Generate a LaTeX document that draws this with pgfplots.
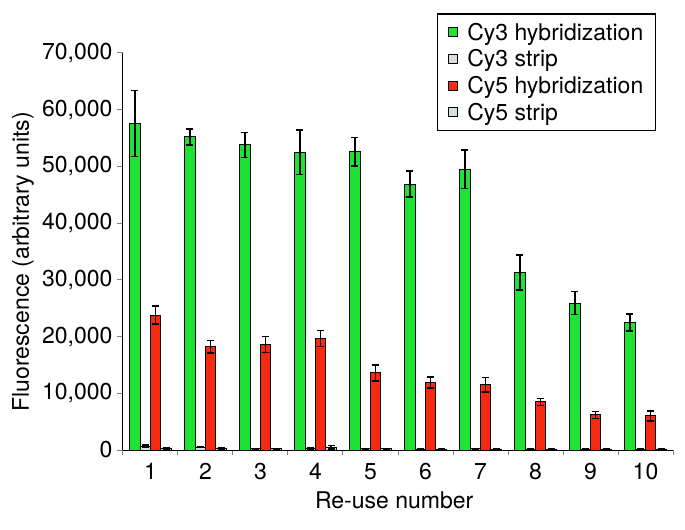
\documentclass[border=0pt]{standalone}
\usepackage{fontspec}
\setmainfont{TeX Gyre Heros}
\usepackage{pgfplots}
\pgfplotsset{compat=1.18}
\usepackage{pgfplotstable}
\definecolor{cygreen}{RGB}{30,226,52}
\definecolor{cyred}{RGB}{246,42,16}
\definecolor{cystrip}{RGB}{212,224,224}
\pgfplotstableread{
x y e
1 57600 5800
2 55200 1400
3 53800 2200
4 52500 3900
5 52600 2500
6 46900 2300
7 49500 3400
8 31300 3100
9 25900 2000
10 22500 1500
}\cythreehyb
\pgfplotstableread{
x y e
1 700 150
2 500 100
3 200 50
4 300 100
5 200 50
6 150 50
7 200 50
8 150 50
9 150 50
10 150 50
}\cythreestrip
\pgfplotstableread{
x y e
1 23800 1600
2 18200 1100
3 18600 1400
4 19700 1400
5 13600 1400
6 11900 1000
7 11500 1300
8 8500 600
9 6200 600
10 6000 900
}\cyfivehyb
\pgfplotstableread{
x y e
1 300 100
2 300 100
3 200 50
4 500 300
5 200 50
6 150 50
7 150 50
8 150 50
9 150 50
10 150 50
}\cyfivestrip
\begin{document}
\begin{tikzpicture}
\begin{axis}[
  scale only axis,
  width=550pt, height=397pt,
  clip=false,
  ybar=0pt,
  bar width=0.19,
  xmin=0.5, xmax=10.5,
  ymin=0, ymax=70000,
  axis x line*=bottom,
  axis y line*=left,
  axis line style={line width=1pt},
  xtick={1,...,10},
  major x tick style={draw=none},
  minor xtick={0.5,1.5,...,10.5},
  minor x tick style={line width=1pt},
  minor tick length=5pt,
  ytick={0,10000,...,70000},
  major y tick style={line width=1pt},
  major tick length=6pt,
  tick align=outside,
  scaled y ticks=false,
  /pgf/number format/assume math mode=true,
  /pgf/number format/.cd, 1000 sep={,}, /pgfplots/.cd,
  tick label style={font=\fontsize{23}{27}\selectfont},
  yticklabel style={xshift=-1pt},
  xticklabel style={yshift=-4pt},
  label style={font=\fontsize{23}{27}\selectfont},
  xlabel={Re-use number},
  ylabel={Fluorescence (arbitrary units)},
  ylabel style={at={(rel axis cs:-0.182,0.474)}, anchor=center},
  xlabel style={at={(rel axis cs:0.493,-0.126)}, anchor=center},
  legend style={at={(rel axis cs:0.969,1.10)}, anchor=north east,
    draw=black, line width=1.3pt, font=\fontsize{23}{27}\selectfont,
    row sep=4pt, inner xsep=10pt, inner ysep=7pt,
    /tikz/every odd column/.append style={column sep=8pt}},
  legend cell align=left,
  legend image code/.code={\draw[#1, line width=0.7pt] (0pt,-4.5pt) rectangle (9pt,4.5pt);},
  every axis plot/.append style={draw=black, line width=1pt},
  error bars/error bar style={line width=1.4pt, black},
  error bars/error mark options={rotate=90, mark size=3.5pt, line width=1.4pt},
]
\addplot[fill=cygreen, error bars/.cd, y dir=both, y explicit] table[x=x, y=y, y error=e] {\cythreehyb};
\addplot[fill=cystrip, error bars/.cd, y dir=both, y explicit] table[x=x, y=y, y error=e] {\cythreestrip};
\addplot[fill=cyred, error bars/.cd, y dir=both, y explicit] table[x=x, y=y, y error=e] {\cyfivehyb};
\addplot[fill=cystrip, error bars/.cd, y dir=both, y explicit] table[x=x, y=y, y error=e] {\cyfivestrip};
\legend{Cy3 hybridization, Cy3 strip, Cy5 hybridization, Cy5 strip}
\path (rel axis cs:-0.2236,-0.199) rectangle (rel axis cs:1.0218,1.1335);
\end{axis}
\end{tikzpicture}
\end{document}
